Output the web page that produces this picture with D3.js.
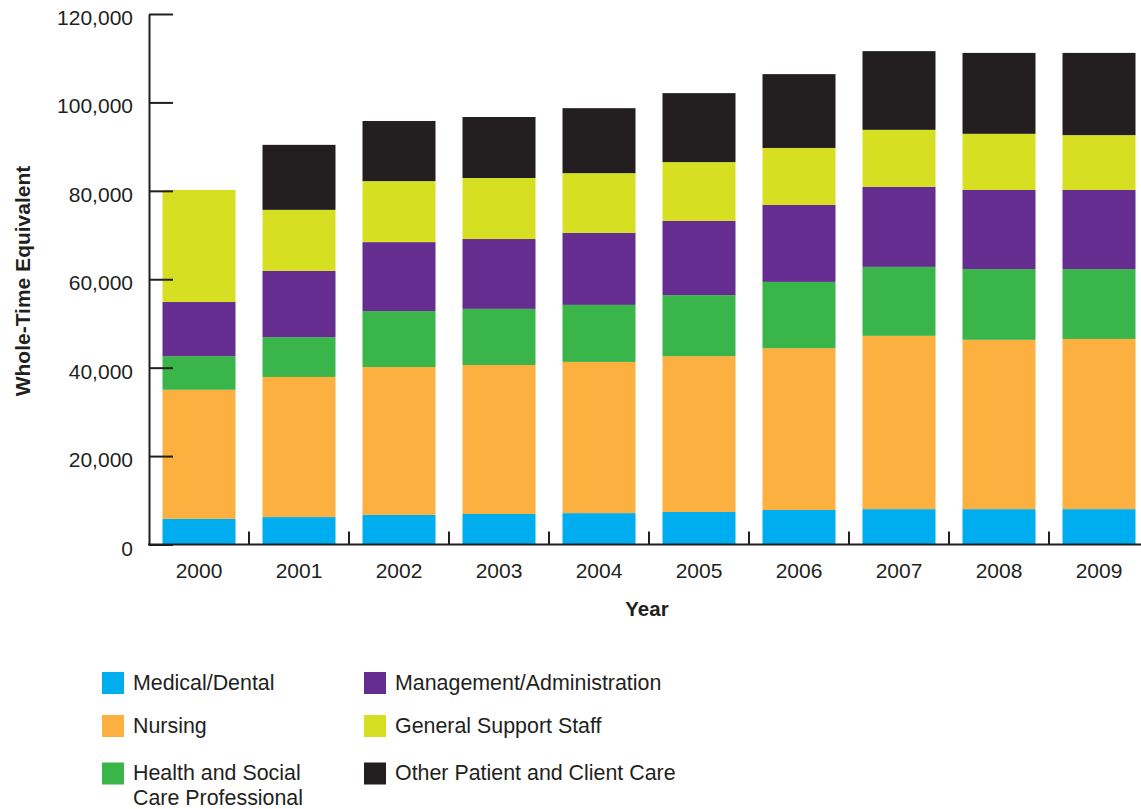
<!DOCTYPE html>
<html>
<head>
<meta charset="utf-8">
<script src="https://cdn.jsdelivr.net/npm/d3@7"></script>
<style>
  html, body { margin: 0; padding: 0; background: #fff; }
  svg { display: block; font-family: "Liberation Sans", Arial, Helvetica, sans-serif; }
</style>
</head>
<body>
<svg id="chart" width="1141" height="809"></svg>
<script>
// ---- Data (Whole-Time Equivalent by staff group) ----
const years = ['2000','2001','2002','2003','2004','2005','2006','2007','2008','2009'];
const medicalDental       = [5800, 6200, 6700, 6900, 7100, 7350, 7800, 8000, 8000, 8000];
const nursing             = [29200, 31700, 33450, 33700, 34200, 35250, 36600, 39200, 38300, 38500];
const healthSocialCare    = [7600, 9000, 12650, 12700, 12900, 13800, 15000, 15600, 16000, 15800];
const managementAdmin     = [12250, 15000, 15600, 15800, 16300, 16800, 17400, 18100, 17900, 17900];
const generalSupport      = [25350, 13800, 13800, 13800, 13500, 13300, 12900, 12900, 12700, 12400];
const otherPatientCare    = [0, 14700, 13600, 13800, 14700, 15600, 16700, 17800, 18300, 18600];
const seriesNames = ['Medical/Dental','Nursing','Health and Social Care Professional','Management/Administration','General Support Staff','Other Patient and Client Care'];
const seriesValues = [medicalDental, nursing, healthSocialCare, managementAdmin, generalSupport, otherPatientCare];
const seriesColors = ['#00AEEF','#FBB040','#39B54A','#662D91','#D7DF23','#231F20'];
const yTickValues = [0, 20000, 40000, 60000, 80000, 100000, 120000];

// ---- Build table ----
const keys = seriesNames;
const table = years.map((yr, i) => {
  const row = { year: yr };
  keys.forEach((k, j) => row[k] = seriesValues[j][i]);
  return row;
});
const stacked = d3.stack().keys(keys)(table);

const svg = d3.select('#chart');
const ink = '#231F20';

const x = d3.scaleBand().domain(years).range([149, 1149]).paddingInner(0.27).paddingOuter(0.135);
const y = d3.scaleLinear().domain([0, 120000]).range([544.5, 14]);
const color = d3.scaleOrdinal().domain(keys).range(seriesColors);

// ---- Bars ----
svg.append('g').selectAll('g')
  .data(stacked).join('g')
  .attr('fill', d => color(d.key))
  .selectAll('rect')
  .data(d => d).join('rect')
  .attr('x', d => x(d.data.year))
  .attr('width', x.bandwidth())
  .attr('y', d => y(d[1]))
  .attr('height', d => Math.max(0, y(d[0]) - y(d[1])));

// ---- Y axis ----
const yAxis = svg.append('g')
  .attr('transform', `translate(${x.range()[0]},0)`)
  .call(d3.axisLeft(y).tickValues(yTickValues).tickFormat(d3.format(',')).tickSizeInner(-24).tickSizeOuter(0).tickPadding(16));
yAxis.select('.domain').attr('stroke', ink).attr('stroke-width', 2);
yAxis.selectAll('.tick line').attr('stroke', ink).attr('stroke-width', 2);
yAxis.selectAll('.tick text')
  .attr('fill', ink).attr('font-size', 21).attr('dy', '0.5em');

// ---- X axis ----
const xBase = y(0);
svg.append('line')
  .attr('x1', x.range()[0] - 1).attr('x2', 1141)
  .attr('y1', xBase).attr('y2', xBase)
  .attr('stroke', ink).attr('stroke-width', 2);
const gap = (x.step() - x.bandwidth()) / 2;
svg.append('g').selectAll('line')
  .data(years.slice(1)).join('line')
  .attr('x1', d => x(d) - gap).attr('x2', d => x(d) - gap)
  .attr('y1', xBase).attr('y2', xBase - 13)
  .attr('stroke', ink).attr('stroke-width', 2);
const xAxis = svg.append('g')
  .attr('transform', `translate(0,${xBase})`)
  .call(d3.axisBottom(x).tickSize(0).tickPadding(0));
xAxis.select('.domain').remove();
xAxis.selectAll('.tick text')
  .attr('fill', ink).attr('font-size', 21)
  .attr('y', 33.5).attr('dy', 0);

// ---- Axis titles ----
svg.append('text')
  .attr('x', 647).attr('y', 615.5)
  .attr('text-anchor', 'middle')
  .attr('font-size', 20.5).attr('font-weight', 'bold').attr('fill', ink)
  .text('Year');
svg.append('text')
  .attr('transform', 'translate(29.5,281) rotate(-90)')
  .attr('text-anchor', 'middle')
  .attr('font-size', 21).attr('font-weight', 'bold').attr('fill', ink)
  .text('Whole-Time Equivalent');

// ---- Legend ----
const legendCols = [102, 364];
const legendRows = [672, 715, 762.5];
const legendItems = [
  { key: keys[0], col: 0, row: 0, lines: ['Medical/Dental'] },
  { key: keys[1], col: 0, row: 1, lines: ['Nursing'] },
  { key: keys[2], col: 0, row: 2, lines: ['Health and Social', 'Care Professional'] },
  { key: keys[3], col: 1, row: 0, lines: ['Management/Administration'] },
  { key: keys[4], col: 1, row: 1, lines: ['General Support Staff'] },
  { key: keys[5], col: 1, row: 2, lines: ['Other Patient and Client Care'] }
];
const lg = svg.append('g').selectAll('g')
  .data(legendItems).join('g')
  .attr('transform', d => `translate(${legendCols[d.col]},${legendRows[d.row]})`);
lg.append('rect')
  .attr('width', 22).attr('height', 22)
  .attr('fill', d => color(d.key));
lg.append('text')
  .attr('x', 31).attr('y', 17.5)
  .attr('font-size', 21.4).attr('fill', ink)
  .selectAll('tspan').data(d => d.lines).join('tspan')
  .attr('x', 31).attr('dy', (d, i) => i === 0 ? 0 : 24.5)
  .text(d => d);
</script>
</body>
</html>
